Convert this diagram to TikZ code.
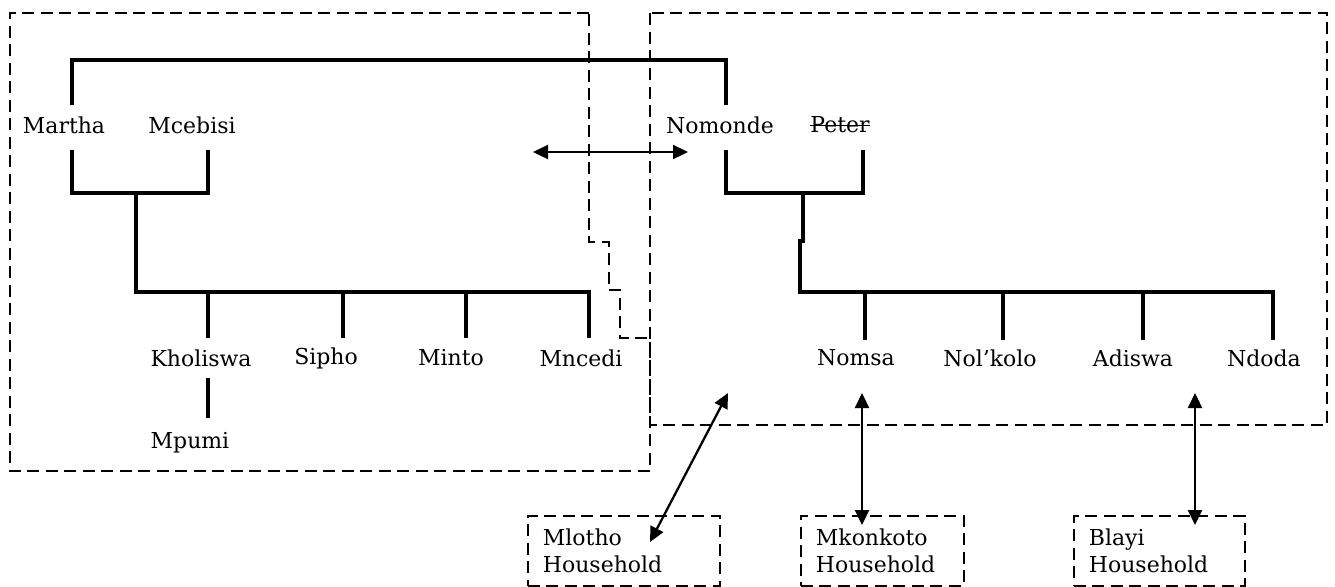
\documentclass[tikz,border=0pt]{standalone}
\usepackage{fontspec}
\setmainfont{DejaVu Serif}
\usetikzlibrary{arrows.meta}

\newcommand{\struckname}[1]{\setbox0\hbox{#1}\rlap{\rule[0.3em]{\wd0}{0.8pt}}\box0}

\tikzset{
    famline/.style={draw=black, line width=2.2pt},
    linkarrow/.style={draw=black, line width=1.3pt,
        {Triangle[length=3mm,width=2.8mm]}-{Triangle[length=3mm,width=2.8mm]}},
    hhline/.style={draw=black, line width=1.1pt, dash pattern=on 0.24cm off 0.13cm},
    person/.style={font=\fontsize{12.5}{15.5}\selectfont, inner sep=0pt},
    hhbox/.style={hhline, font=\fontsize{12.5}{15.5}\selectfont, align=left,
        anchor=north west, inner xsep=0.3cm, minimum height=1.4cm}
}

\begin{document}
\begin{tikzpicture}[x=0.02cm, y=-0.02cm]
    \useasboundingbox (0,0) rectangle (1335,586);

    % household boundaries
    \draw[hhline] (589,13) -- (10,13) -- (10,471) -- (650,471) -- (650,338) -- (620,338)
        -- (620,290) -- (609,290) -- (609,242) -- (589,242) -- cycle;
    \draw[hhline] (650,13) rectangle (1327,425);

    % people
    \node[person] (martha)   at (64,125)   {Martha};
    \node[person] (mcebisi)  at (192,125)  {Mcebisi};
    \node[person] (nomonde)  at (720,125)  {Nomonde};
    \node[person] (peter)    at (840,125)  {\struckname{Peter}};
    \node[person] (kholiswa) at (201,358)  {Kholiswa};
    \node[person] (sipho)    at (326,358)  {Sipho};
    \node[person] (minto)    at (451,358)  {Minto};
    \node[person] (mncedi)   at (581,358)  {Mncedi};
    \node[person] (mpumi)    at (190,443)  {Mpumi};
    \node[person] (nomsa)    at (856,358)  {Nomsa};
    \node[person] (nolkolo)  at (990,358)  {Nol'kolo};
    \node[person] (adiswa)   at (1133,358) {Adiswa};
    \node[person] (ndoda)    at (1264,358) {Ndoda};

    % other households
    \node[hhbox, text width=3.24cm] (mlotho)   at (527,515)  {Mlotho\\Household};
    \node[hhbox, text width=2.66cm] (mkonkoto) at (800,515)  {Mkonkoto\\Household};
    \node[hhbox, text width=2.82cm] (blayi)    at (1073,515) {Blayi\\Household};

    % junctions
    \coordinate (topl) at (72,60);    \coordinate (topr) at (726,60);
    \coordinate (mau)  at (72,105);   \coordinate (nou)  at (726,105);
    \coordinate (mad)  at (72,150);   \coordinate (mcd)  at (208,150);
    \coordinate (mal)  at (72,193);   \coordinate (mcl)  at (208,193);
    \coordinate (mdrop) at (136,193); \coordinate (mbar) at (136,292);
    \coordinate (kb) at (208,292);    \coordinate (kc) at (208,338);
    \coordinate (sb) at (343,292);    \coordinate (sc) at (343,338);
    \coordinate (ib) at (466,292);    \coordinate (ic) at (466,338);
    \coordinate (nb) at (589,292);    \coordinate (nc) at (589,338);
    \coordinate (ku) at (208,378);    \coordinate (pu) at (208,418);
    \coordinate (nod) at (726,150);   \coordinate (ped) at (863,150);
    \coordinate (nol) at (726,193);   \coordinate (pel) at (863,193);
    \coordinate (rdrop) at (803,193); \coordinate (rjog1) at (803,241);
    \coordinate (rjog2) at (800,241); \coordinate (rbar) at (800,292);
    \coordinate (omb) at (865,292);   \coordinate (omc) at (865,340);
    \coordinate (olb) at (1003,292);  \coordinate (olc) at (1003,340);
    \coordinate (adb) at (1143,292);  \coordinate (adc) at (1143,340);
    \coordinate (ndb) at (1273,292);  \coordinate (ndc) at (1273,340);

    % family lines
    \path[famline] (mau) -- (topl) -- (topr) -- (nou);
    \path[famline] (mad) -- (mal) -- (mcl) -- (mcd);
    \path[famline] (mdrop) -- (mbar) -- (nb) -- (nc);
    \path[famline] (kb) edge (kc) (sb) edge (sc) (ib) edge (ic);
    \path[famline] (ku) edge (pu);
    \path[famline] (nod) -- (nol) -- (pel) -- (ped);
    \path[famline] (rdrop) -- (rjog1) -- (rjog2) -- (rbar) -- (ndb) -- (ndc);
    \path[famline] (omb) edge (omc) (olb) edge (olc) (adb) edge (adc);

    % links
    \coordinate (lka) at (533,152);   \coordinate (lkb) at (688,152);
    \coordinate (mla) at (728,393);   \coordinate (mlb) at (650,542);
    \coordinate (mka) at (862,393);   \coordinate (mkb) at (862,525);
    \coordinate (bla) at (1195,393);  \coordinate (blb) at (1195,525);
    \path[linkarrow] (lka) -- (lkb);
    \path[linkarrow] (mla) -- (mlb);
    \path[linkarrow] (mka) -- (mkb);
    \path[linkarrow] (bla) -- (blb);

\end{tikzpicture}
\end{document}
